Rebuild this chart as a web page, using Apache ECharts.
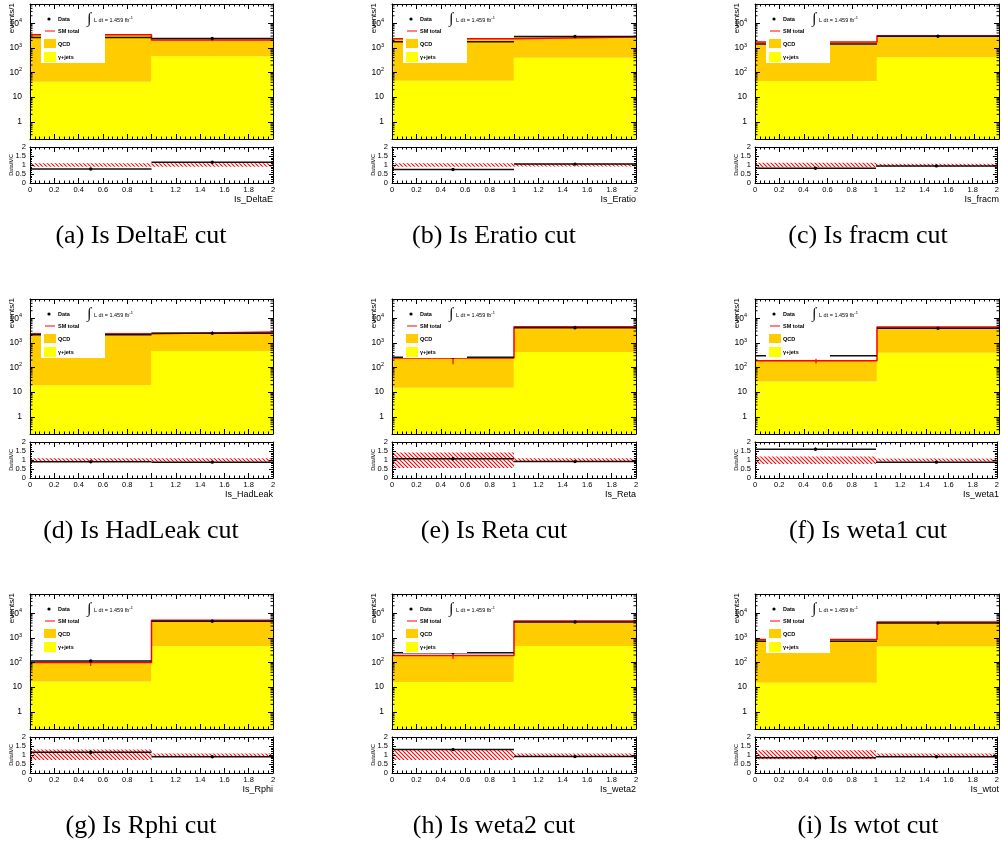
<!DOCTYPE html>
<html><head><meta charset="utf-8">
<script src="https://cdn.jsdelivr.net/npm/echarts@6/dist/echarts.min.js"></script>
<style>html,body{margin:0;padding:0;background:#fff}#c{width:1002px;height:847px}</style>
</head><body><div id="c"></div>
<script>
// ---------------- data ----------------
const variables = ['Is_DeltaE','Is_Eratio','Is_fracm','Is_HadLeak','Is_Reta','Is_weta1','Is_Rphi','Is_weta2','Is_wtot'];
const captions = ['(a) Is DeltaE cut','(b) Is Eratio cut','(c) Is fracm cut','(d) Is HadLeak cut','(e) Is Reta cut','(f) Is weta1 cut','(g) Is Rphi cut','(h) Is weta2 cut','(i) Is wtot cut'];
const binEdges = [0, 1, 2];
const gammaJets = [[42,455],[46,400],[45,410],[19,470],[15,420],[27,400],[17,460],[16,465],[15,450]];
const smTotal   = [[3400,2070],[2360,2760],[1740,3100],[2350,2750],[245,4500],[188,4400],[100,5200],[190,4800],[850,4400]];
const dataCounts= [[2650,2380],[1770,2900],[1430,2950],[2115,2420],[262,4100],[300,3870],[115,4680],[247,4370],[720,3960]];
const ratioValues = [[0.78,1.15],[0.75,1.05],[0.82,0.95],[0.9,0.88],[1.07,0.91],[1.6,0.88],[1.15,0.9],[1.3,0.91],[0.85,0.9]];
const ratioErrors = [[0.03,0.03],[0.03,0.03],[0.03,0.03],[0.03,0.03],[0.07,0.02],[0.09,0.02],[0.11,0.02],[0.08,0.02],[0.03,0.02]];
const bandLow  = [[0.9,0.9],[0.9,0.92],[0.87,0.9],[0.9,0.9],[0.55,0.93],[0.78,0.92],[0.72,0.93],[0.72,0.93],[0.77,0.93]];
const bandHigh = [[1.1,1.1],[1.1,1.08],[1.13,1.07],[1.1,1.1],[1.42,1.1],[1.2,1.08],[1.3,1.08],[1.32,1.08],[1.27,1.08]];
const mainYTickValues = [1, 10, 100, 1000, 10000];
const mainYTickLabels = ['1', '10', '10{s|2}', '10{s|3}', '10{s|4}'];
const ratioYTickValues = [0, 0.5, 1, 1.5, 2];
const ratioYTickLabels = ['0', '0.5', '1', '1.5', '2'];
const xTickValues = [0,0.2,0.4,0.6,0.8,1,1.2,1.4,1.6,1.8,2];
const xTickLabels = ['0','0.2','0.4','0.6','0.8','1','1.2','1.4','1.6','1.8','2'];
const legendLabels = ['Data', 'SM total', 'QCD', '\u03b3+jets'];
const lumiLabel = 'L dt = 1.459 fb';
const yTitleMain = 'events/1';
const yTitleRatio = 'Data/MC';
const mainYRange = [0.2, 60000];
const ratioYRange = [0, 2];

// ---------------- layout ----------------
const colLeft = [30, 392, 755];
const colWidth = [243, 244, 244];
const rowTop = [4, 299, 594];
const captionX = [141, 494, 868];
const MAIN_H = 135, RATIO_OFF = 143, RATIO_H = 36;
const SANS = '"Liberation Sans", Arial, sans-serif';
const SERIF = '"Liberation Serif", "Times New Roman", serif';

function lookup(vals, labels, v){
  for (let i=0;i<vals.length;i++) if (Math.abs(vals[i]-v) < 1e-6*Math.max(1,Math.abs(v))) return labels[i];
  return '';
}
const logMinor = [];
for (let n=-1;n<=4;n++) for (let k=2;k<=9;k++){ const v=k*Math.pow(10,n); if (v>mainYRange[0] && v<mainYRange[1]) logMinor.push(v); }

function makeHatch(){
  const c=document.createElement('canvas'); c.width=4; c.height=4;
  const g=c.getContext('2d'); g.strokeStyle='#ff0000'; g.lineWidth=1.1;
  g.beginPath(); g.moveTo(-1,-1); g.lineTo(5,5); g.stroke();
  g.beginPath(); g.moveTo(-1,3); g.lineTo(1,5); g.stroke();
  g.beginPath(); g.moveTo(3,-1); g.lineTo(5,1); g.stroke();
  return c;
}
const hatch = {image: makeHatch(), repeat: 'repeat'};

function renderStack(params, api){
  const cs=params.coordSys, bottom=cs.y+cs.height;
  const a=api.coord([api.value(0), api.value(2)]), b=api.coord([api.value(1), api.value(3)]);
  return {type:'group', children:[
    {type:'rect', shape:{x:a[0]-0.3, y:a[1], width:b[0]-a[0]+0.6, height:bottom-a[1]}, style:{fill:'#ffff00'}},
    {type:'rect', shape:{x:a[0]-0.3, y:b[1], width:b[0]-a[0]+0.6, height:a[1]-b[1]}, style:{fill:'#ffcc00'}}
  ]};
}
function renderLogMinor(params, api){
  const cs=params.coordSys; const p=api.coord([0, api.value(1)]);
  const L=cs.x, R=cs.x+cs.width;
  return {type:'group', children:[
    {type:'line', shape:{x1:L, y1:p[1], x2:L+2.5, y2:p[1]}, style:{stroke:'#000', lineWidth:1}},
    {type:'line', shape:{x1:R-2.5, y1:p[1], x2:R, y2:p[1]}, style:{stroke:'#000', lineWidth:1}}
  ]};
}
function renderVErr(params, api){
  const xc=(api.value(0)+api.value(1))/2;
  const a=api.coord([xc, api.value(2)]), b=api.coord([xc, api.value(3)]);
  return {type:'line', shape:{x1:a[0], y1:a[1], x2:b[0], y2:b[1]}, style:{stroke:'#ff0000', lineWidth:1.2}};
}
function renderData(params, api){
  const v=api.value(2);
  const a=api.coord([api.value(0), v]), b=api.coord([api.value(1), v]);
  const ch=[
    {type:'line', shape:{x1:a[0], y1:a[1], x2:b[0], y2:b[1]}, style:{stroke:'#111', lineWidth:1.5}},
    {type:'circle', shape:{cx:(a[0]+b[0])/2, cy:a[1], r:1.7}, style:{fill:'#000'}}
  ];
  if (api.value(3) > 0){
    const xc=(api.value(0)+api.value(1))/2;
    const lo=api.coord([xc, v-api.value(3)]), hi=api.coord([xc, v+api.value(3)]);
    ch.push({type:'line', shape:{x1:lo[0], y1:lo[1], x2:hi[0], y2:hi[1]}, style:{stroke:'#000', lineWidth:1}});
  }
  return {type:'group', children:ch};
}
function renderBand(params, api){
  const a=api.coord([api.value(0), api.value(3)]), b=api.coord([api.value(1), api.value(2)]);
  return {type:'rect', shape:{x:a[0], y:a[1], width:b[0]-a[0], height:b[1]-a[1]}, style:{fill:hatch}};
}

function xAxisCfg(g, pos, labels){
  return {type:'value', gridIndex:g, position:pos, min:0, max:2, interval:0.2, z:10,
    axisLine:{show:true, onZero:false, lineStyle:{color:'#000', width:1}},
    axisTick:{show:true, inside:true, length:5, lineStyle:{color:'#000'}},
    minorTick:{show:true, splitNumber:5, length:2.5, lineStyle:{color:'#000'}},
    splitLine:{show:false}, minorSplitLine:{show:false},
    axisLabel:{show:labels, margin:3, fontSize:7.5, color:'#000', fontFamily:SANS,
      formatter:v=>lookup(xTickValues, xTickLabels, v)}};
}
function yMainCfg(g, pos, labels){
  return {type:'log', logBase:10, gridIndex:g, position:pos, min:mainYRange[0], max:mainYRange[1], z:10,
    axisLine:{show:true, onZero:false, lineStyle:{color:'#000', width:1}},
    axisTick:{show:true, inside:true, length:5, lineStyle:{color:'#000'}},
    splitLine:{show:false},
    axisLabel:{show:labels, margin:8, fontSize:8.5, color:'#000', fontFamily:SANS,
      formatter:v=>lookup(mainYTickValues, mainYTickLabels, v),
      rich:{s:{fontSize:5.5, fontFamily:SANS, color:'#000', verticalAlign:'top', padding:[0,0,5,0]}}}};
}
function yRatioCfg(g, pos, labels){
  return {type:'value', gridIndex:g, position:pos, min:ratioYRange[0], max:ratioYRange[1], interval:0.5, z:10,
    axisLine:{show:true, onZero:false, lineStyle:{color:'#000', width:1}},
    axisTick:{show:true, inside:true, length:4, lineStyle:{color:'#000'}},
    minorTick:{show:true, splitNumber:5, length:2, lineStyle:{color:'#000'}},
    splitLine:{show:false}, minorSplitLine:{show:false},
    axisLabel:{show:labels, margin:4, fontSize:7.5, color:'#000', fontFamily:SANS,
      formatter:v=>lookup(ratioYTickValues, ratioYTickLabels, v)}};
}

const option={animation:false, backgroundColor:'#fff', grid:[], xAxis:[], yAxis:[], series:[], graphic:[]};
for (let p=0;p<9;p++){
  const col=p%3, row=Math.floor(p/3);
  const L=colLeft[col], W=colWidth[col], T=rowTop[row];
  const gM=2*p, gR=2*p+1;
  option.grid.push({left:L, top:T, width:W, height:MAIN_H});
  option.grid.push({left:L, top:T+RATIO_OFF, width:W, height:RATIO_H});
  option.xAxis.push(xAxisCfg(gM,'bottom',false), xAxisCfg(gM,'top',false));
  option.yAxis.push(yMainCfg(gM,'left',true), yMainCfg(gM,'right',false));
  option.xAxis.push(xAxisCfg(gR,'bottom',true), xAxisCfg(gR,'top',false));
  option.yAxis.push(yRatioCfg(gR,'left',true), yRatioCfg(gR,'right',false));
  const xm=2*gM, ym=2*gM, xr=2*gR, yr=2*gR;
  const bins=[0,1];
  option.series.push({type:'custom', silent:true, xAxisIndex:xm, yAxisIndex:ym, z:2, renderItem:renderStack, encode:{x:[0,1], y:[2,3]},
    data:bins.map(i=>[binEdges[i], binEdges[i+1], gammaJets[p][i], smTotal[p][i]])});
  option.series.push({type:'custom', silent:true, xAxisIndex:xm, yAxisIndex:ym, z:6, renderItem:renderLogMinor, encode:{x:0, y:1},
    data:logMinor.map(v=>[0,v])});
  option.series.push({type:'line', silent:true, xAxisIndex:xm, yAxisIndex:ym, z:3, step:'end', symbol:'none', showSymbol:false,
    lineStyle:{color:'#ff0000', width:1.5},
    data:[[binEdges[0], smTotal[p][0]], [binEdges[1], smTotal[p][1]], [binEdges[2], smTotal[p][1]]]});
  option.series.push({type:'custom', silent:true, xAxisIndex:xm, yAxisIndex:ym, z:4, renderItem:renderVErr, encode:{x:[0,1], y:[2,3]},
    data:bins.map(i=>[binEdges[i], binEdges[i+1], smTotal[p][i]*bandLow[p][i], smTotal[p][i]*bandHigh[p][i]])});
  option.series.push({type:'custom', silent:true, xAxisIndex:xm, yAxisIndex:ym, z:5, renderItem:renderData, encode:{x:[0,1], y:2},
    data:bins.map(i=>[binEdges[i], binEdges[i+1], dataCounts[p][i], 0])});
  option.series.push({type:'custom', silent:true, xAxisIndex:xr, yAxisIndex:yr, z:2, renderItem:renderBand, encode:{x:[0,1], y:[2,3]},
    data:bins.map(i=>[binEdges[i], binEdges[i+1], bandLow[p][i], bandHigh[p][i]])});
  option.series.push({type:'custom', silent:true, xAxisIndex:xr, yAxisIndex:yr, z:5, renderItem:renderData, encode:{x:[0,1], y:2},
    data:bins.map(i=>[binEdges[i], binEdges[i+1], ratioValues[p][i], ratioErrors[p][i]])});

  // legend box & texts
  const Z=100, gr=option.graphic;
  gr.push({type:'rect', z:Z, silent:true, shape:{x:L+11, y:T+6, width:64, height:53}, style:{fill:'#fff'}});
  gr.push({type:'circle', z:Z+1, silent:true, shape:{cx:L+19, cy:T+15, r:1.6}, style:{fill:'#000'}});
  gr.push({type:'line', z:Z+1, silent:true, shape:{x1:L+15, y1:T+27, x2:L+25, y2:T+27}, style:{stroke:'#ff0000', lineWidth:1}});
  gr.push({type:'rect', z:Z+1, silent:true, shape:{x:L+14, y:T+35, width:12, height:9}, style:{fill:'#ffcc00'}});
  gr.push({type:'rect', z:Z+1, silent:true, shape:{x:L+14, y:T+48, width:12, height:10}, style:{fill:'#ffff00'}});
  const ly=[15,27,40,53];
  legendLabels.forEach((t,i)=>gr.push({type:'text', z:Z+1, silent:true, x:L+28, y:T+ly[i],
    style:{text:t, fill:'#000', font:'bold 5.5px '+SANS, verticalAlign:'middle'}}));
  gr.push({type:'text', z:Z+1, silent:true, x:L+59, y:T+15, style:{text:'\u222B', fill:'#000', font:'15px '+SERIF, align:'center', verticalAlign:'middle'}});
  gr.push({type:'text', z:Z+1, silent:true, x:L+64, y:T+16, style:{text:lumiLabel+'{s|-1}', fill:'#000', font:'5.5px '+SANS, verticalAlign:'middle',
    rich:{s:{fontSize:4, fontFamily:SANS, fill:'#000', verticalAlign:'top', padding:[0,0,4,0]}}}});
  // axis titles
  gr.push({type:'text', silent:true, x:L-18, y:T-1, rotation:Math.PI/2, style:{text:yTitleMain, fill:'#000', font:'8px '+SANS, align:'right', verticalAlign:'middle'}});
  gr.push({type:'text', silent:true, x:L-19, y:T+RATIO_OFF+RATIO_H/2, rotation:Math.PI/2, style:{text:yTitleRatio, fill:'#000', font:'5.5px '+SANS, align:'center', verticalAlign:'middle'}});
  gr.push({type:'text', silent:true, x:L+W, y:T+RATIO_OFF+RATIO_H+17, style:{text:variables[p], fill:'#000', font:'9px '+SANS, align:'right', verticalAlign:'middle'}});
  gr.push({type:'text', silent:true, x:captionX[col], y:T+232, style:{text:captions[p], fill:'#000', font:'26px '+SERIF, align:'center', verticalAlign:'middle'}});
}
const chart=echarts.init(document.getElementById('c'), null, {renderer:'canvas', width:1002, height:847});
chart.setOption(option);
</script>
</body></html>
